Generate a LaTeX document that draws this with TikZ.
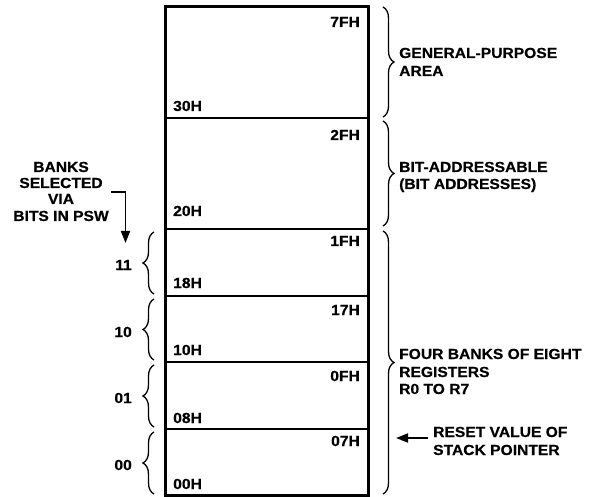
\documentclass[tikz,border=0pt]{standalone}
\usepackage{fontspec}
\setmainfont{Liberation Sans}[FakeStretch=1.07,FakeBold=0.5]
\usetikzlibrary{decorations.pathreplacing,arrows.meta}
\tikzset{
  lbl/.style={inner sep=0pt, font=\fontsize{14.6}{17}\selectfont\bfseries},
  cell/.style={draw, line width=2pt, minimum width=202pt, inner sep=0pt},
  rbrace/.style={decorate, decoration={brace, amplitude=11pt}, line width=1.3pt},
  arr/.style={line width=1.8pt, -{Triangle[length=12pt,width=9pt]}}
}
\begin{document}
\begin{tikzpicture}[x=1pt,y=-1pt]
\useasboundingbox (0,0) rectangle (597,497);
% cells
\node[cell, minimum height=111pt] (c7) at (267,62.5) {};
\node[cell, minimum height=111pt] (c2) at (267,173.5) {};
\node[cell, minimum height=67pt] (b3) at (267,262.5) {};
\node[cell, minimum height=66pt] (b2) at (267,329) {};
\node[cell, minimum height=67pt] (b1) at (267,395.5) {};
\node[cell, minimum height=66pt] (b0) at (267,462) {};
\draw[line width=2.6pt] (c7.north west) rectangle (b0.south east);
% cell labels
\node[lbl, anchor=base east] (t7) at (360,27) {7FH};
\node[lbl, anchor=base west] (l30) at (173,111) {30H};
\node[lbl, anchor=base east] (t2) at (360,140) {2FH};
\node[lbl, anchor=base west] (l20) at (173,216) {20H};
\node[lbl, anchor=base east] (t1f) at (360,246) {1FH};
\node[lbl, anchor=base west] (l18) at (173,288) {18H};
\node[lbl, anchor=base east] (t17) at (360,315) {17H};
\node[lbl, anchor=base west] (l10) at (173,355) {10H};
\node[lbl, anchor=base east] (t0f) at (360,381) {0FH};
\node[lbl, anchor=base west] (l08) at (173,423) {08H};
\node[lbl, anchor=base east] (t07) at (360,446) {07H};
\node[lbl, anchor=base west] (l00) at (173,489) {00H};
% right braces
\coordinate (r1a) at (383,7);   \coordinate (r1b) at (383,117);
\coordinate (r2a) at (383,121); \coordinate (r2b) at (383,226);
\coordinate (r3a) at (383,231); \coordinate (r3b) at (383,494);
\draw[rbrace] (r1a) -- (r1b);
\draw[rbrace] (r2a) -- (r2b);
\draw[rbrace] (r3a) -- (r3b);
\node[lbl, anchor=base west] (g1) at (399,58) {GENERAL-PURPOSE};
\node[lbl, anchor=base west] (g2) at (399,76) {AREA};
\node[lbl, anchor=base west] (ba1) at (399,172) {BIT-ADDRESSABLE};
\node[lbl, anchor=base west] (ba2) at (399,189) {(BIT ADDRESSES)};
\node[lbl, anchor=base west] (f1) at (399,359) {FOUR BANKS OF EIGHT};
\node[lbl, anchor=base west] (f2) at (399,377) {REGISTERS};
\node[lbl, anchor=base west] (f3) at (399,394) {R0 TO R7};
\node[lbl, anchor=base west] (rs1) at (433,437) {RESET VALUE OF};
\node[lbl, anchor=base west] (rs2) at (433,455) {STACK POINTER};
\coordinate (sp) at (396,438);
\draw[arr] (rs1.west |- sp) ++(-5,0) -- (sp);
% left braces
\coordinate (k3a) at (154,294); \coordinate (k3b) at (154,232);
\coordinate (k2a) at (154,360); \coordinate (k2b) at (154,299);
\coordinate (k1a) at (154,427); \coordinate (k1b) at (154,365);
\coordinate (k0a) at (154,494); \coordinate (k0b) at (154,432);
\draw[rbrace] (k3a) -- (k3b);
\draw[rbrace] (k2a) -- (k2b);
\draw[rbrace] (k1a) -- (k1b);
\draw[rbrace] (k0a) -- (k0b);
\node[lbl, anchor=east] (n11) at (132,265) {11};
\node[lbl, anchor=east] (n10) at (132,332) {10};
\node[lbl, anchor=east] (n01) at (132,398) {01};
\node[lbl, anchor=east] (n00) at (132,465) {00};
% banks selected
\node[lbl, anchor=base] (s1) at (61,172) {BANKS};
\node[lbl, anchor=base] (s2) at (61,188) {SELECTED};
\node[lbl, anchor=base] (s3) at (61,204) {VIA};
\node[lbl, anchor=base] (s4) at (61,221) {BITS IN PSW};
\coordinate (ae) at (125.5,243);
\draw[arr] (111,192) -| (ae);
\end{tikzpicture}
\end{document}
